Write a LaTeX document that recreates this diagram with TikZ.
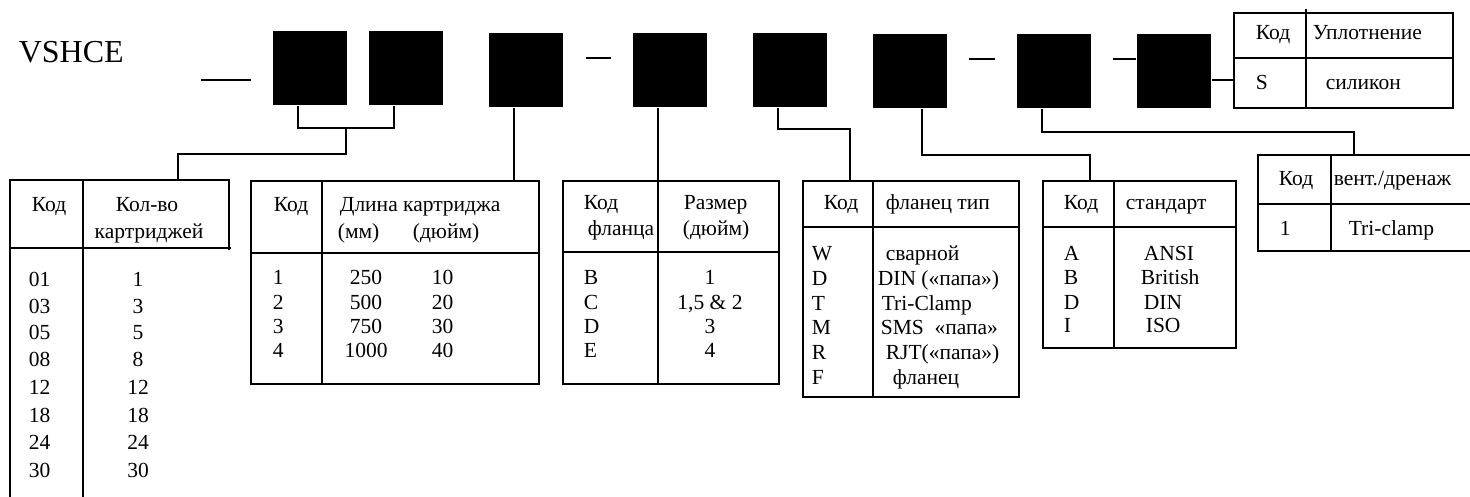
\documentclass[tikz,border=0pt]{standalone}
\usepackage{fontspec}
\setmainfont{Liberation Serif}
\usetikzlibrary{calc}
\begin{document}
\begin{tikzpicture}[x=1pt,y=-1pt,line width=1.7pt,
  blk/.style={fill=black,draw=none,minimum width=74pt,minimum height=74pt,inner sep=0pt},
  tbl/.style={draw,anchor=north west,inner sep=0pt},
  txt/.style={inner sep=0pt,font=\fontsize{21.5}{24}\selectfont,anchor=base west},
  ctxt/.style={txt,anchor=base},
  conn/.style={line width=1.7pt}]
\useasboundingbox (0,0) rectangle (1470,497);

% title
\node[txt,font=\fontsize{32}{36}\selectfont] (title) at (18,63) {VSHCE};

% black boxes
\node[blk] (b1) at (310,68) {};
\node[blk] (b2) at (406,68) {};
\node[blk] (b3) at (526,70) {};
\node[blk] (b4) at (670,70) {};
\node[blk] (b5) at (790,70) {};
\node[blk] (b6) at (910,71) {};
\node[blk] (b7) at (1054,71) {};
\node[blk] (b8) at (1174,71) {};

% dashes
\coordinate (d1a) at (201,80); \coordinate (d1b) at (251,80);
\coordinate (d2a) at (586,58); \coordinate (d2b) at (611,58);
\coordinate (d3a) at (969,59); \coordinate (d3b) at (995,59);
\coordinate (d4a) at (1113,59);
\draw[conn] (d1a) -- (d1b);
\draw[conn] (d2a) -- (d2b);
\draw[conn] (d3a) -- (d3b);
\draw[conn] (d4a) -- (d4a -| b8.west);

% seal table
\node[tbl,minimum width=219pt,minimum height=95pt] (seal) at (1233,12) {};
\draw[conn] (b8.east |- 0,80) -- (seal.west |- 0,80);
\draw (1306,9) -- (1306,107);
\draw (1233,58) -- (1452,58);
\node[txt] (s1) at (1255,40) {Код};
\node[txt] (s2) at (1312,40) {Уплотнение};
\node[txt] (s3) at (1255,90) {S};
\node[txt] (s4) at (1325,90) {силикон};

% ---------- table 1 ----------
\node[tbl,draw=none,minimum width=217pt,minimum height=68pt] (t1) at (10,180) {};
\draw (10,500) -- (t1.north west) -- (t1.north east) -- (t1.south east);
\draw (10,248) -- (231,248);
\draw (83,180) -- (83,500);
\node[txt] (t1a) at (31,212) {Код};
\node[ctxt] (t1b) at (147,212) {Кол-во};
\node[ctxt] (t1c) at (149,239) {картриджей};
\foreach \c/\v/\y in {01/1/286,03/3/313,05/5/339,08/8/366,12/12/394,18/18/422,24/24/449,30/30/477}{
  \node[txt] (t1c\c) at (28,\y) {\c};
  \node[ctxt] (t1v\c) at (138,\y) {\v};
}

% ---------- table 2 ----------
\node[tbl,minimum width=288pt,minimum height=203pt] (t2) at (250,180) {};
\draw (322,180) -- (322,383);
\draw (250,253) -- (538,253);
\node[txt] (t2a) at (273,212) {Код};
\node[txt] (t2b) at (339,212) {Длина картриджа};
\node[txt] (t2c) at (337,239) {(мм)};
\node[txt] (t2d) at (412,239) {(дюйм)};
\foreach \c/\m/\i/\y in {1/250/10/284,2/500/20/309,3/750/30/333,4/1000/40/357}{
  \node[txt] (t2c\c) at (272,\y) {\c};
  \node[ctxt] (t2m\c) at (366,\y) {\m};
  \node[txt] (t2i\c) at (431,\y) {\i};
}

% ---------- table 3 ----------
\node[tbl,minimum width=216pt,minimum height=203pt] (t3) at (562,180) {};
\draw (658,180) -- (658,383);
\draw (562,252) -- (778,252);
\node[txt] (t3a) at (583,210) {Код};
\node[txt] (t3b) at (587,236) {фланца};
\node[txt] (t3c) at (683,210) {Размер};
\node[txt] (t3d) at (682,236) {(дюйм)};
\foreach \c/\v/\y in {B/1/284,C/{1,5 \& 2}/309,D/3/333,E/4/357}{
  \node[txt] (t3c\c) at (583,\y) {\c};
  \node[ctxt] (t3v\c) at (710,\y) {\v};
}

% ---------- table 4 ----------
\node[tbl,minimum width=216pt,minimum height=216pt] (t4) at (802,180) {};
\draw (873,180) -- (873,396);
\draw (802,227) -- (1018,227);
\node[txt] (t4a) at (823,210) {Код};
\node[txt] (t4b) at (885,210) {фланец тип};
\foreach \c/\x/\v/\y in {W/885/сварной/260,D/877/DIN («папа»)/285,T/881/Tri-Clamp/310,M/880/SMS\ \ «папа»/334,R/885/RJT(«папа»)/359,F/892/фланец/384}{
  \node[txt] (t4c\c) at (811,\y) {\c};
  \node[txt] (t4v\c) at (\x,\y) {\v};
}

% ---------- table 5 ----------
\node[tbl,minimum width=193pt,minimum height=167pt] (t5) at (1042,180) {};
\draw (1114,180) -- (1114,347);
\draw (1042,227) -- (1235,227);
\node[txt] (t5a) at (1063,210) {Код};
\node[txt] (t5b) at (1125,210) {стандарт};
\foreach \c/\x/\v/\y in {A/1143/ANSI/260,B/1140/British/284,D/1143/DIN/309,I/1145/ISO/332}{
  \node[txt] (t5c\c) at (1063,\y) {\c};
  \node[txt] (t5v\c) at (\x,\y) {\v};
}

% ---------- table 6 ----------
\coordinate (t6nw) at (1258,155);
\coordinate (t6ne) at (1470,155);
\draw (t6ne) -- (t6nw) -- (1258,251) -- (1470,251);
\draw (1258,204) -- (1470,204);
\draw (1331,155) -- (1331,251);
\node[txt] (t6a) at (1278,186) {Код};
\node[txt] (t6b) at (1333,186) {вент./дренаж};
\node[txt] (t6c) at (1279,236) {1};
\node[txt] (t6d) at (1348,236) {Tri-clamp};

% ---------- connectors ----------
\coordinate (p1) at ($(b1.south)+(-12,0)$);
\coordinate (p2) at ($(b2.south)+(-12,0)$);
\coordinate (p3) at ($(b3.south)+(-12,0)$);
\coordinate (p4) at ($(b4.south)+(-12,0)$);
\coordinate (p5) at ($(b5.south)+(-12,0)$);
\coordinate (p6) at ($(b6.south)+(12,0)$);
\coordinate (p7) at ($(b7.south)+(-12,0)$);
\coordinate (j1) at (346,128);
\coordinate (j2) at (178,154);
\coordinate (q5) at (850,129);
\coordinate (q6) at (1090,155);
\coordinate (q7) at (1354,132);

\draw[conn] (p1) |- (j1) -| (p2);
\draw[conn] (j1) |- (j2) -- (j2 |- t1.north);
\draw[conn] (p3) -- (p3 |- t2.north);
\draw[conn] (p4) -- (p4 |- t3.north);
\draw[conn] (p5) |- (q5) -- (q5 |- t4.north);
\draw[conn] (p6) |- (q6) -- (q6 |- t5.north);
\draw[conn] (p7) |- (q7) -- (q7 |- t6nw);
\end{tikzpicture}
\end{document}
